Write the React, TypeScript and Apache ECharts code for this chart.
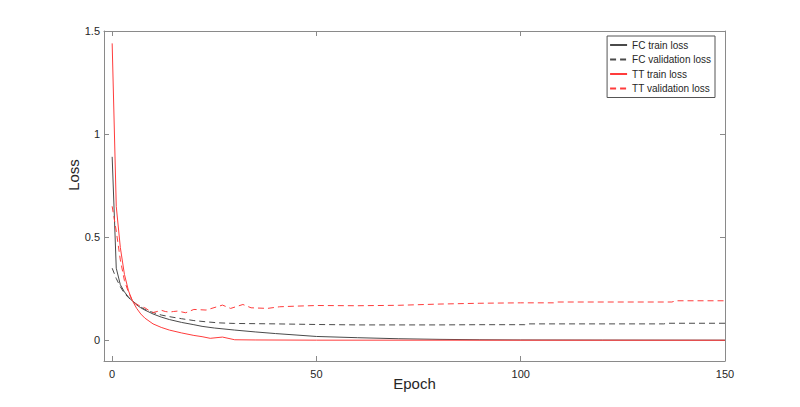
import React, { useEffect, useRef } from "react";
import * as echarts from "echarts";

// Epoch / loss pairs
const fcTrain: [number, number][] = [
  [0, 0.89], [1, 0.35], [2, 0.27], [3, 0.235], [4, 0.21], [5, 0.19], [6, 0.172], [7, 0.158],
  [8, 0.147], [10, 0.128], [12, 0.113], [14, 0.101], [17, 0.087], [20, 0.076], [22, 0.068],
  [25, 0.06], [30, 0.05], [35, 0.041], [40, 0.033], [45, 0.026], [50, 0.019], [60, 0.013],
  [70, 0.008], [80, 0.005], [90, 0.003], [100, 0.002], [120, 0.0015], [150, 0.001],
];
const fcVal: [number, number][] = [
  [0, 0.35], [1, 0.3], [2, 0.26], [3, 0.228], [4, 0.207], [5, 0.19], [6, 0.175], [7, 0.162],
  [8, 0.15], [10, 0.135], [12, 0.123], [14, 0.115], [17, 0.105], [20, 0.096], [23, 0.09],
  [26, 0.085], [30, 0.082], [35, 0.081], [40, 0.08], [50, 0.077], [60, 0.075], [70, 0.075],
  [80, 0.075], [90, 0.076], [101, 0.076], [102, 0.08], [135, 0.08], [136, 0.083], [150, 0.083],
];
const ttTrain: [number, number][] = [
  [0, 1.44], [1, 0.65], [2, 0.45], [3, 0.32], [4, 0.24], [5, 0.19], [6, 0.155], [7, 0.128],
  [8, 0.108], [10, 0.08], [12, 0.063], [14, 0.05], [17, 0.036], [20, 0.024], [22, 0.018],
  [24, 0.01], [27, 0.016], [30, 0.003], [35, 0.002], [50, 0.001], [150, 0.0005],
];
const ttVal: [number, number][] = [
  [0, 0.65], [1, 0.53], [2, 0.39], [3, 0.29], [4, 0.233], [5, 0.19], [6, 0.175], [7, 0.165],
  [8, 0.158], [9, 0.145], [10, 0.135], [11, 0.14], [12, 0.146], [13, 0.14], [14, 0.137],
  [15, 0.14], [16, 0.142], [18, 0.134], [20, 0.15], [23, 0.147], [27, 0.171], [29, 0.155],
  [32, 0.174], [34, 0.158], [38, 0.155], [41, 0.163], [45, 0.166], [50, 0.169], [60, 0.168],
  [70, 0.17], [80, 0.176], [90, 0.18], [100, 0.182], [108, 0.182], [109, 0.186], [137, 0.186],
  [138, 0.192], [150, 0.192],
];

const seriesNames = ["FC train loss", "FC validation loss", "TT train loss", "TT validation loss"];
const xLabel = "Epoch";
const yLabel = "Loss";

const FONT = "Liberation Sans, Arial, Helvetica, sans-serif";
const AXIS_COLOR = "#8a8a8a";
const TEXT_COLOR = "#262626";
const BLACK = "#4a4a4a";
const RED = "#ff3c3c";

export default function App() {
  const ref = useRef<HTMLDivElement>(null);
  useEffect(() => {
    if (!ref.current) return;
    const chart = echarts.init(ref.current, undefined, { renderer: "svg" });
    const baseAxisLine = { show: true, onZero: false, lineStyle: { color: AXIS_COLOR, width: 1 } };
    const tick = { show: true, inside: true, length: 5, lineStyle: { color: AXIS_COLOR } };
    chart.setOption({
      animation: false,
      backgroundColor: "#ffffff",
      textStyle: { fontFamily: FONT },
      grid: { left: 104, right: 75, top: 31, bottom: 46, containLabel: false },
      legend: {
        orient: "vertical",
        right: 85,
        top: 36,
        align: "left",
        padding: [2, 4, 2, 2],
        itemGap: 0.5,
        itemWidth: 17,
        itemHeight: 10,
        borderColor: "#555",
        borderWidth: 1,
        backgroundColor: "#fff",
        itemStyle: { opacity: 0 },
        textStyle: { fontSize: 10, color: TEXT_COLOR, fontFamily: FONT, lineHeight: 14 },
        data: seriesNames,
      },
      xAxis: [
        {
          type: "value",
          min: -2,
          max: 150,
          splitNumber: 3,
          name: xLabel,
          nameLocation: "middle",
          nameGap: 15,
          nameMoveOverlap: false,
          nameTextStyle: { fontSize: 15, color: TEXT_COLOR, fontFamily: FONT },
          axisLine: baseAxisLine,
          axisTick: tick,
          splitLine: { show: false },
          axisLabel: {
            fontSize: 11,
            color: TEXT_COLOR,
            margin: 7,
            showMinLabel: false,
            formatter: (v: number) => (v % 50 === 0 ? String(v) : ""),
          },
        },
        {
          type: "value",
          position: "top",
          min: -2,
          max: 150,
          splitNumber: 3,
          axisLine: baseAxisLine,
          axisTick: tick,
          axisLabel: { show: false },
          splitLine: { show: false },
        },
      ],
      yAxis: [
        {
          type: "value",
          min: -0.1,
          max: 1.5,
          splitNumber: 3,
          name: yLabel,
          nameLocation: "middle",
          nameGap: 23,
          nameMoveOverlap: false,
          nameTextStyle: { fontSize: 15, color: TEXT_COLOR, fontFamily: FONT, padding: [0, 0, 0, 42] },
          axisLine: baseAxisLine,
          axisTick: tick,
          splitLine: { show: false },
          axisLabel: {
            fontSize: 11,
            color: TEXT_COLOR,
            margin: 4,
            showMinLabel: false,
            formatter: (v: number) => (Math.abs(v * 2 - Math.round(v * 2)) < 1e-9 ? String(v) : ""),
          },
        },
        {
          type: "value",
          position: "right",
          min: -0.1,
          max: 1.5,
          splitNumber: 3,
          axisLine: baseAxisLine,
          axisTick: tick,
          axisLabel: { show: false },
          splitLine: { show: false },
        },
      ],
      series: [
        { name: seriesNames[0], type: "line", data: fcTrain, symbol: "none", lineStyle: { color: BLACK, width: 1, type: "solid" }, itemStyle: { color: BLACK } },
        { name: seriesNames[1], type: "line", data: fcVal, symbol: "none", lineStyle: { color: BLACK, width: 1, type: [6, 4] }, itemStyle: { color: BLACK } },
        { name: seriesNames[2], type: "line", data: ttTrain, symbol: "none", lineStyle: { color: RED, width: 1, type: "solid" }, itemStyle: { color: RED } },
        { name: seriesNames[3], type: "line", data: ttVal, symbol: "none", lineStyle: { color: RED, width: 1, type: [6, 4] }, itemStyle: { color: RED } },
      ],
    });
    return () => chart.dispose();
  }, []);
  return <div ref={ref} style={{ position: "absolute", left: 0, top: 0, width: 800, height: 407 }} />;
}
